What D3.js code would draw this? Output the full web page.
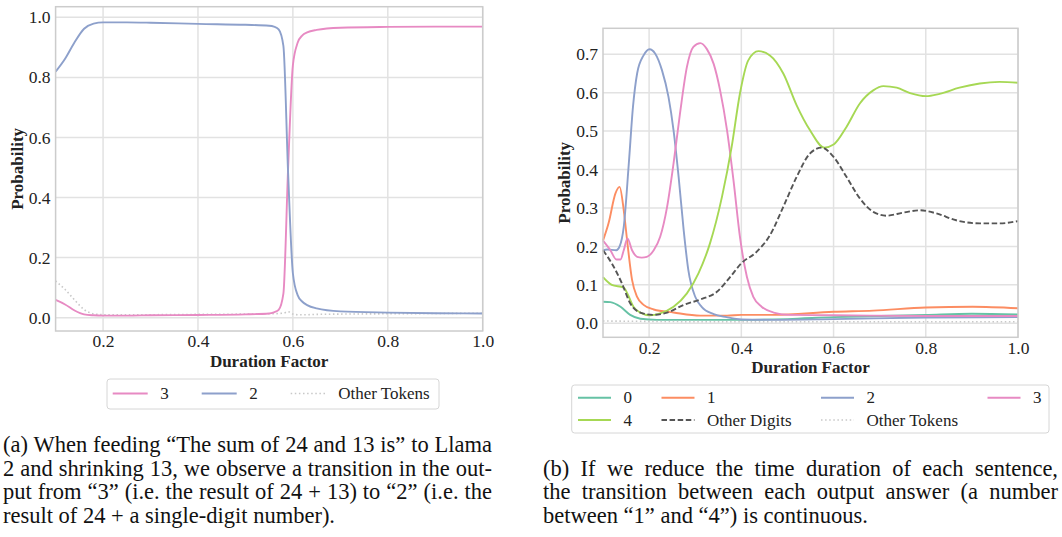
<!DOCTYPE html>
<html><head><meta charset="utf-8">
<script src="https://cdn.jsdelivr.net/npm/d3@7"></script>
<style>body{margin:0;background:#fff}svg{display:block}</style>
</head><body>
<svg id="fig" width="1062" height="537"></svg>
<script>
// ---------------- DATA ----------------
// Left chart (a)
const leftX      = [0.10,0.12,0.14,0.16,0.18,0.20,0.25,0.30,0.40,0.50,0.55,0.56,0.57,0.58,0.59,0.60,0.61,0.62,0.63,0.65,0.70,0.80,0.90,1.00];
const leftTwo    = [0.819,0.862,0.917,0.962,0.979,0.983,0.983,0.982,0.978,0.975,0.972,0.969,0.960,0.905,0.480,0.148,0.075,0.053,0.042,0.031,0.021,0.017,0.015,0.014];
const leftThree  = [0.059,0.044,0.024,0.011,0.008,0.007,0.007,0.008,0.009,0.011,0.014,0.018,0.026,0.080,0.500,0.840,0.915,0.940,0.950,0.958,0.965,0.968,0.969,0.969];
const leftOther  = [0.122,0.094,0.059,0.027,0.013,0.010,0.010,0.010,0.011,0.012,0.013,0.013,0.014,0.015,0.020,0.012,0.010,0.010,0.010,0.011,0.012,0.013,0.014,0.015];
const leftLabels = ["3","2","Other Tokens"];

// Right chart (b): [duration factor, probability]
const digit0 = [[0.10,0.056],[0.116,0.055],[0.138,0.043],[0.159,0.022],[0.181,0.012],[0.217,0.009],[0.30,0.009],[0.40,0.009],[0.50,0.011],[0.60,0.016],[0.70,0.019],[0.80,0.022],[0.90,0.025],[1.00,0.023]];
const digit1 = [[0.10,0.215],[0.112,0.26],[0.127,0.338],[0.136,0.355],[0.145,0.294],[0.153,0.208],[0.163,0.113],[0.174,0.069],[0.188,0.048],[0.21,0.036],[0.253,0.028],[0.311,0.020],[0.369,0.020],[0.40,0.022],[0.469,0.022],[0.60,0.030],[0.686,0.033],[0.80,0.041],[0.902,0.043],[1.00,0.039]];
const digit2 = [[0.10,0.19],[0.109,0.192],[0.129,0.19],[0.136,0.20],[0.145,0.251],[0.156,0.416],[0.165,0.563],[0.174,0.65],[0.188,0.697],[0.201,0.713],[0.213,0.702],[0.228,0.658],[0.242,0.589],[0.253,0.502],[0.264,0.381],[0.275,0.242],[0.285,0.139],[0.30,0.069],[0.314,0.043],[0.34,0.024],[0.368,0.016],[0.40,0.010],[0.47,0.009],[0.60,0.011],[0.80,0.015],[1.00,0.016]];
const digit3 = [[0.10,0.215],[0.116,0.19],[0.129,0.166],[0.138,0.166],[0.145,0.19],[0.153,0.221],[0.163,0.19],[0.174,0.173],[0.184,0.171],[0.195,0.173],[0.21,0.19],[0.224,0.225],[0.239,0.303],[0.253,0.416],[0.267,0.546],[0.282,0.667],[0.296,0.719],[0.311,0.729],[0.325,0.714],[0.34,0.675],[0.354,0.606],[0.369,0.502],[0.383,0.372],[0.397,0.225],[0.412,0.121],[0.426,0.069],[0.444,0.043],[0.47,0.028],[0.506,0.022],[0.60,0.021],[0.80,0.019],[1.00,0.019]];
const digit4 = [[0.10,0.12],[0.119,0.10],[0.145,0.093],[0.156,0.069],[0.166,0.043],[0.181,0.028],[0.202,0.021],[0.224,0.026],[0.253,0.043],[0.282,0.078],[0.307,0.13],[0.332,0.208],[0.358,0.329],[0.379,0.459],[0.397,0.598],[0.415,0.684],[0.437,0.708],[0.462,0.697],[0.491,0.65],[0.52,0.567],[0.549,0.502],[0.58,0.457],[0.60,0.465],[0.628,0.511],[0.657,0.572],[0.686,0.606],[0.708,0.617],[0.737,0.613],[0.766,0.599],[0.80,0.591],[0.83,0.597],[0.873,0.613],[0.917,0.624],[0.96,0.628],[1.00,0.626]];
const otherDigits = [[0.10,0.19],[0.119,0.156],[0.141,0.104],[0.159,0.052],[0.181,0.028],[0.21,0.022],[0.239,0.028],[0.275,0.048],[0.311,0.062],[0.347,0.082],[0.376,0.121],[0.40,0.156],[0.433,0.186],[0.462,0.229],[0.491,0.303],[0.52,0.381],[0.549,0.442],[0.574,0.457],[0.60,0.433],[0.628,0.381],[0.657,0.325],[0.686,0.29],[0.715,0.28],[0.751,0.288],[0.787,0.294],[0.823,0.286],[0.866,0.268],[0.917,0.26],[0.96,0.26],[1.00,0.266]];
const otherTokens = [[0.10,0.006],[0.20,0.005],[0.40,0.004],[0.60,0.004],[0.80,0.004],[1.00,0.004]];
const rightLabels = ["0","1","2","3","4","Other Digits","Other Tokens"];

const xTicks = [0.2,0.4,0.6,0.8,1.0];
const leftYTicks = [0.0,0.2,0.4,0.6,0.8,1.0];
const rightYTicks = [0.0,0.1,0.2,0.3,0.4,0.5,0.6,0.7];

const captionA = ["(a) When feeding \u201CThe sum of 24 and 13 is\u201D to Llama",
                  "2 and shrinking 13, we observe a transition in the out-",
                  "put from \u201C3\u201D (i.e. the result of 24 + 13) to \u201C2\u201D (i.e. the",
                  "result of 24 + a single-digit number)."];
const captionB = ["(b) If we reduce the time duration of each sentence,",
                  "the transition between each output answer (a number",
                  "between \u201C1\u201D and \u201C4\u201D) is continuous."];

// ---------------- STYLE ----------------
const FONT = "'Liberation Serif','Times New Roman',serif";
const C = {teal:"#66c2a5", orange:"#fc8d62", blue:"#8da0cb", pink:"#e78ac3", green:"#a6d854", dark:"#555555", light:"#c8c8c8"};
const TICK_FS = 17.5, LABEL_FS = 17, LEG_FS = 17, CAP_FS = 22.5;
const svg = d3.select("#fig");

function drawChart(cfg) {
  const g = svg.append("g");
  const x = d3.scaleLinear().domain([0.1,1.0]).range([cfg.x0,cfg.x1]);
  const y = d3.scaleLinear().domain(cfg.yDomain).range([cfg.yBot,cfg.yTop]);
  g.append("g").selectAll("line").data(cfg.yTicks).join("line")
    .attr("x1",cfg.x0).attr("x2",cfg.x1).attr("y1",d=>y(d)).attr("y2",d=>y(d))
    .attr("stroke","#e2e2e2").attr("stroke-width",1.5);
  g.append("g").selectAll("line").data(xTicks).join("line")
    .attr("y1",cfg.yTop).attr("y2",cfg.yBot).attr("x1",d=>x(d)).attr("x2",d=>x(d))
    .attr("stroke","#e2e2e2").attr("stroke-width",1.5);
  cfg.series.forEach(s=>{
    g.append("path").datum(s.data)
      .attr("d", d3.line().x(d=>x(d[0])).y(d=>y(d[1])).curve(d3.curveMonotoneX))
      .attr("fill","none").attr("stroke",s.color).attr("stroke-width",s.w||1.9)
      .attr("stroke-dasharray",s.dash||null).attr("stroke-linejoin","round");
  });
  g.append("rect").attr("x",cfg.x0).attr("y",cfg.yTop).attr("width",cfg.x1-cfg.x0).attr("height",cfg.yBot-cfg.yTop)
    .attr("fill","none").attr("stroke","#cccccc").attr("stroke-width",1.5);
  const ax = g.append("g").attr("transform",`translate(0,${cfg.yBot})`)
    .call(d3.axisBottom(x).tickValues(xTicks).tickFormat(d3.format(".1f")).tickSize(0).tickPadding(4));
  ax.select(".domain").remove();
  ax.selectAll("text").attr("font-family",FONT).attr("font-size",TICK_FS).attr("fill","#222");
  const ay = g.append("g").attr("transform",`translate(${cfg.x0},0)`)
    .call(d3.axisLeft(y).tickValues(cfg.yTicks).tickFormat(d3.format(".1f")).tickSize(0).tickPadding(5));
  ay.select(".domain").remove();
  ay.selectAll("text").attr("font-family",FONT).attr("font-size",TICK_FS).attr("fill","#222");
  g.append("text").attr("x",(cfg.x0+cfg.x1)/2).attr("y",cfg.yBot+30.5).attr("text-anchor","middle")
    .attr("dominant-baseline","central").attr("font-family",FONT).attr("font-weight","bold").attr("font-size",LABEL_FS)
    .attr("fill","#222").text("Duration Factor");
  g.append("text").attr("transform",`translate(${cfg.x0-38.5},${(cfg.yTop+cfg.yBot)/2}) rotate(-90)`)
    .attr("text-anchor","middle").attr("dominant-baseline","central").attr("font-family",FONT)
    .attr("font-weight","bold").attr("font-size",LABEL_FS).attr("fill","#222").text("Probability");
}

const zipL = arr => leftX.map((v,i)=>[v,arr[i]]);
drawChart({x0:55.6,x1:482.7,yTop:6.7,yBot:331,yDomain:[-0.0443,1.0353],yTicks:leftYTicks,
  series:[
    {data:zipL(leftOther),color:C.light,dash:"1.5,2.6",w:1.6},
    {data:zipL(leftThree),color:C.pink},
    {data:zipL(leftTwo),color:C.blue}
  ]});
drawChart({x0:603,x1:1018,yTop:28.3,yBot:337.3,yDomain:[-0.0364,0.7675],yTicks:rightYTicks,
  series:[
    {data:digit0,color:C.teal},
    {data:digit1,color:C.orange},
    {data:digit2,color:C.blue},
    {data:digit3,color:C.pink},
    {data:digit4,color:C.green},
    {data:otherDigits,color:C.dark,dash:"5.5,2.6"},
    {data:otherTokens,color:C.light,dash:"1.5,2.6",w:1.6}
  ]});

// ---------------- LEGENDS ----------------
function legendItem(g, xs, yc, len, color, dash, label, w) {
  g.append("line").attr("x1",xs).attr("x2",xs+len).attr("y1",yc).attr("y2",yc)
    .attr("stroke",color).attr("stroke-width",w||1.9).attr("stroke-dasharray",dash||null);
  return g.append("text").attr("x",xs+len+12.5).attr("y",yc).attr("dominant-baseline","central")
    .attr("font-family",FONT).attr("font-size",LEG_FS).attr("fill","#222").text(label);
}
{
  const g = svg.append("g");
  g.append("rect").attr("x",107).attr("y",379).attr("width",332).attr("height",30).attr("rx",3)
    .attr("fill","#fff").attr("stroke","#d6d6d6").attr("stroke-width",1);
  const styles = [[C.pink,null,1.9],[C.blue,null,1.9],[C.light,"1.5,2.6",1.6]];
  let xs = 112.7;
  leftLabels.forEach((lab,i)=>{
    const t = legendItem(g, xs, 393.5, 35, styles[i][0], styles[i][1], lab, styles[i][2]);
    xs += 35 + 12.5 + t.node().getComputedTextLength() + 33;
  });
}
{
  const g = svg.append("g");
  const bx0 = 571.7, bx1 = 1049, by0 = 385, by1 = 433;
  g.append("rect").attr("x",bx0).attr("y",by0).attr("width",bx1-bx0).attr("height",by1-by0).attr("rx",3)
    .attr("fill","#fff").attr("stroke","#d6d6d6").attr("stroke-width",1);
  const styles = [[C.teal],[C.orange],[C.blue],[C.pink],[C.green],[C.dark,"5.5,2.6"],[C.light,"1.5,2.6",1.6]];
  const rows = [397.7, 420];
  const texts = rightLabels.map((lab,i)=>{
    const col = i%4, row = Math.floor(i/4);
    return {i,col,row,t:legendItem(g,0,rows[row],33,styles[i][0],styles[i][1],lab,styles[i][2])};
  });
  const colW = [0,0,0,0];
  texts.forEach(o=>{ colW[o.col] = Math.max(colW[o.col], 33+12.5+o.t.node().getComputedTextLength()); });
  const padL = 6.3, padR = 7.5;
  const sep = ((bx1-bx0) - padL - padR - d3.sum(colW))/3;
  const colX = []; let cx = bx0+padL;
  colW.forEach(w=>{ colX.push(cx); cx += w + sep; });
  g.selectAll("line").each(function(d,k){
    const o = texts[k]; d3.select(this).attr("x1",colX[o.col]).attr("x2",colX[o.col]+33);
  });
  texts.forEach(o=>o.t.attr("x",colX[o.col]+33+12.5));
}

// ---------------- CAPTIONS ----------------
function caption(lines, x0, x1, baseY, lh) {
  lines.forEach((ln,i)=>{
    const t = svg.append("text").attr("x",x0).attr("y",baseY+i*lh)
      .attr("font-family",FONT).attr("font-size",CAP_FS).attr("fill","#111").text(ln);
    if (i < lines.length-1) {
      const nat = t.node().getComputedTextLength();
      const n = (ln.match(/ /g)||[]).length;
      t.attr("word-spacing", ((x1-x0)-nat)/n);
    }
  });
}
caption(captionA, 3, 492, 452, 23.5);
caption(captionB, 543, 1058, 475.5, 23.5);
</script></body></html>
